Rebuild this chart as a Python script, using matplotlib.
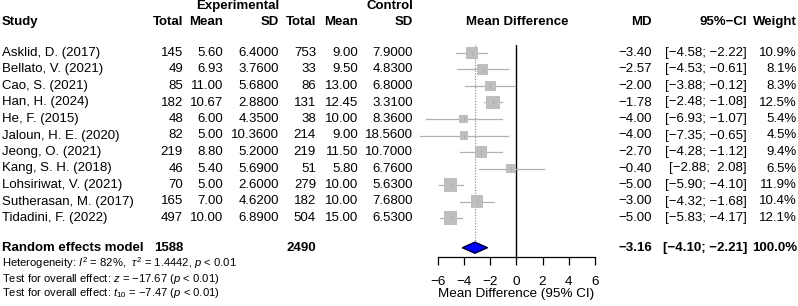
import numpy as np
import matplotlib
matplotlib.use("Agg")
import matplotlib.pyplot as plt
import matplotlib.transforms as mtransforms

plt.rcParams['font.family'] = ['Liberation Sans', 'DejaVu Sans']
plt.rcParams['mathtext.fontset'] = 'custom'
plt.rcParams['mathtext.rm'] = 'Liberation Sans'
plt.rcParams['mathtext.it'] = 'Liberation Sans:italic'
plt.rcParams['mathtext.bf'] = 'Liberation Sans:bold'

# study data
studies = ["Asklid, D. (2017)", "Bellato, V. (2021)", "Cao, S. (2021)", "Han, H. (2024)",
           "He, F. (2015)", "Jaloun, H. E. (2020)", "Jeong, O. (2021)", "Kang, S. H. (2018)",
           "Lohsiriwat, V. (2021)", "Sutherasan, M. (2017)", "Tidadini, F. (2022)"]
exp_total = [145, 49, 85, 182, 48, 82, 219, 46, 70, 165, 497]
exp_mean = [5.60, 6.93, 11.00, 10.67, 6.00, 5.00, 8.80, 5.40, 5.00, 7.00, 10.00]
exp_sd = [6.4, 3.76, 5.68, 2.88, 4.35, 10.36, 5.2, 5.69, 2.6, 4.62, 6.89]
ctl_total = [753, 33, 86, 131, 38, 214, 219, 51, 279, 182, 504]
ctl_mean = [9.00, 9.50, 13.00, 12.45, 10.00, 9.00, 11.50, 5.80, 10.00, 10.00, 15.00]
ctl_sd = [7.9, 4.83, 6.8, 3.31, 8.36, 18.56, 10.7, 6.76, 5.63, 7.68, 6.53]
md = [-3.40, -2.57, -2.00, -1.78, -4.00, -4.00, -2.70, -0.40, -5.00, -3.00, -5.00]
ci_lo = [-4.58, -4.53, -3.88, -2.48, -6.93, -7.35, -4.28, -2.88, -5.90, -4.32, -5.83]
ci_hi = [-2.22, -0.61, -0.12, -1.08, -1.07, -0.65, -1.12, 2.08, -4.10, -1.68, -4.17]
weight = [10.9, 8.1, 8.3, 12.5, 5.4, 4.5, 9.4, 6.5, 11.9, 10.4, 12.1]

sum_md, sum_lo, sum_hi = -3.16, -4.10, -2.21
sum_exp_total, sum_ctl_total = 1588, 2490
xticks = [-6, -4, -2, 0, 2, 4, 6]

W, H = 798, 306
fig = plt.figure(figsize=(W / 100, H / 100), dpi=100)

# forest axes: x in MD units, y in rows (row i at pixel 53 + 16.5 i)
x0_px, x1_px = 437.7, 595.0
top_px, bot_px = 45, 257
ax = fig.add_axes([x0_px / W, 1 - bot_px / H, (x1_px - x0_px) / W, (bot_px - top_px) / H])
y_top = (top_px - 53) / 16.5
y_bot = (bot_px - 53) / 16.5
ax.set_xlim(-6, 6)
ax.set_ylim(y_bot, y_top)
for s in ['top', 'right', 'left']:
    ax.spines[s].set_visible(False)
ax.spines['bottom'].set_bounds(-6, 6)
ax.spines['bottom'].set_linewidth(0.9)
ax.set_yticks([])
ax.set_xticks(xticks)
ax.set_xticklabels([str(t).replace('-', '\u2212') for t in xticks])
ax.tick_params(axis='x', length=6, width=0.9, labelsize=9.7, pad=8)
ax.set_xlabel('Mean Difference (95% CI)', fontsize=9.7, labelpad=0)
ax.patch.set_alpha(0)

rows = np.arange(len(studies))
sum_y = 11.8

ax.axvline(0, color='black', lw=1.0)
ax.plot([sum_md, sum_md], [y_top, sum_y - 0.33], color='gray', lw=0.8, ls=(0, (1, 1.5)))
for i in rows:
    ax.plot([ci_lo[i], ci_hi[i]], [i, i], color='#b0b0b0', lw=0.9, clip_on=False, zorder=2)
ax.scatter(md, rows, s=np.array(weight) * 7.5, marker='s', color='#bebebe', lw=0, zorder=3)
ax.scatter(md, rows, s=12, marker='|', color='#a8a8a8', lw=0.6, zorder=4)
ax.plot([sum_lo, sum_md, sum_hi, sum_md, sum_lo], [sum_y, sum_y - 0.33, sum_y, sum_y + 0.33, sum_y],
        color='black', lw=0.8, zorder=4)
ax.fill([sum_lo, sum_md, sum_hi, sum_md], [sum_y, sum_y - 0.33, sum_y, sum_y + 0.33],
        color='#0000ff', zorder=3)

# text columns: x in figure pixels, y in rows
tr = mtransforms.blended_transform_factory(
    mtransforms.Affine2D().scale(1 / W, 1) + fig.transFigure, ax.transData)
fs = 9.5
def col(x, y, s, ha='right', bold=False):
    ax.text(x, y, s, transform=tr, ha=ha, va='center', fontsize=fs,
            fontweight='bold' if bold else 'normal', clip_on=False)

def fmt(v, d):
    return f"{v:.{d}f}".replace('-', '\u2212')

hdr_y, grp_y = -1.9, -2.82
col(279, grp_y, 'Experimental', bold=True)
col(413, grp_y, 'Control', bold=True)
col(2, hdr_y, 'Study', ha='left', bold=True)
col(183, hdr_y, 'Total', bold=True)
col(223, hdr_y, 'Mean', bold=True)
col(279, hdr_y, 'SD', bold=True)
col(316, hdr_y, 'Total', bold=True)
col(358, hdr_y, 'Mean', bold=True)
col(413, hdr_y, 'SD', bold=True)
col(517, hdr_y, 'Mean Difference', ha='center', bold=True)
col(652, hdr_y, 'MD', bold=True)
col(747, hdr_y, '95%\u2212CI', bold=True)
col(797, hdr_y, 'Weight', bold=True)

for i in rows:
    col(2, i, studies[i], ha='left')
    col(183, i, str(exp_total[i]))
    col(223, i, fmt(exp_mean[i], 2))
    col(279, i, fmt(exp_sd[i], 4))
    col(316, i, str(ctl_total[i]))
    col(358, i, fmt(ctl_mean[i], 2))
    col(413, i, fmt(ctl_sd[i], 4))
    col(652, i, fmt(md[i], 2))
    col(747, i, f"[{fmt(ci_lo[i], 2)}; {fmt(ci_hi[i], 2).rjust(5)}]")
    col(797, i, f"{weight[i]:.1f}%")

col(2, sum_y, 'Random effects model', ha='left', bold=True)
col(183, sum_y, str(sum_exp_total), bold=True)
col(316, sum_y, str(sum_ctl_total), bold=True)
col(652, sum_y, fmt(sum_md, 2), bold=True)
col(747, sum_y, f"[{fmt(sum_lo, 2)}; {fmt(sum_hi, 2)}]", bold=True)
col(797, sum_y, '100.0%', bold=True)

fs2 = 8.1
fig.text(2 / W, 1 - 263.5 / H, 'Heterogeneity: $I^2$ = 82%,  $\\tau^2$ = 1.4442, $p$ < 0.01',
         ha='left', va='center', fontsize=fs2)
fig.text(2 / W, 1 - 279 / H, 'Test for overall effect: $z$ = \u221217.67 ($p$ < 0.01)',
         ha='left', va='center', fontsize=fs2)
fig.text(2 / W, 1 - 293.5 / H, 'Test for overall effect: $t_{10}$ = \u22127.47 ($p$ < 0.01)',
         ha='left', va='center', fontsize=fs2)

fig.savefig('out.png', dpi=100)
